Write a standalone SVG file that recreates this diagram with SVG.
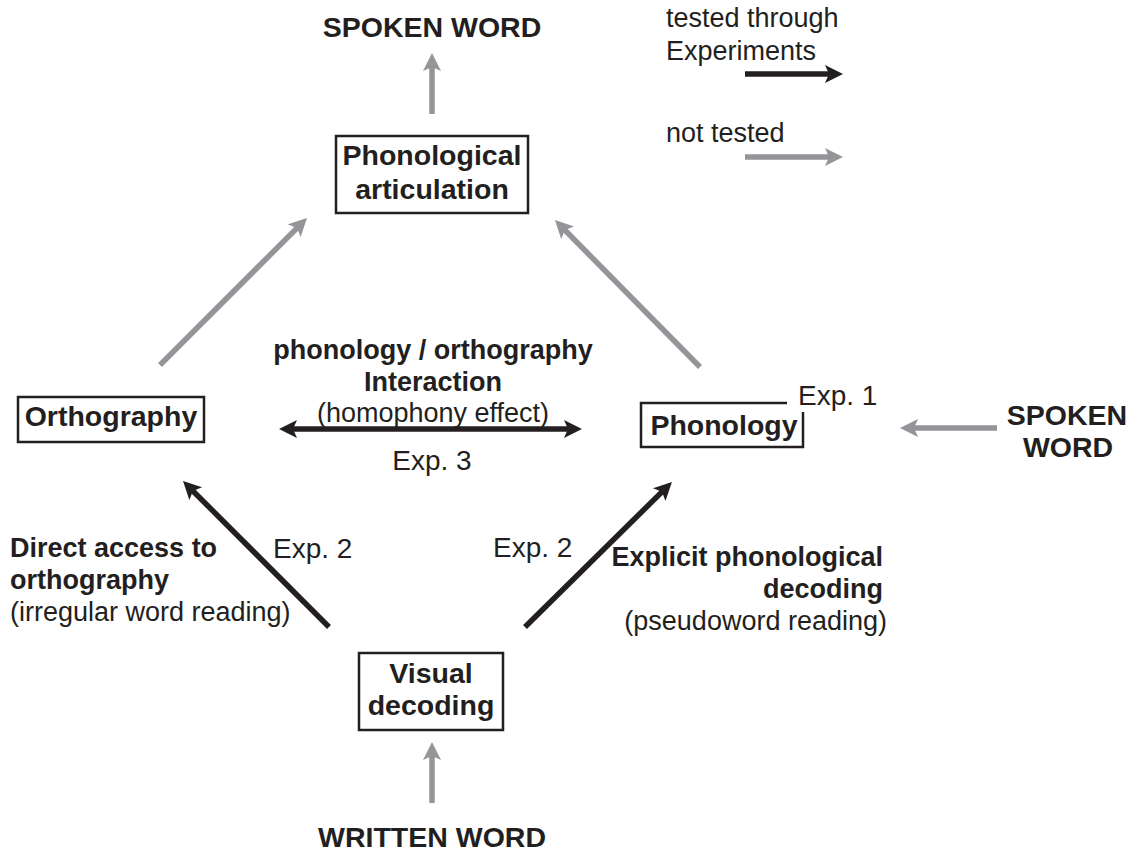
<svg xmlns="http://www.w3.org/2000/svg" width="1135" height="851" viewBox="0 0 1135 851">
<defs>
<style>
text{font-family:"Liberation Sans",Arial,sans-serif;fill:#231f20}
.b{font-weight:bold}
.n{font-size:28.5px;font-weight:bold}
.l{font-size:27px}
.e{font-size:28px}
.box{fill:none;stroke:#231f20;stroke-width:2.5}
.k{stroke:#231f20;stroke-width:5.5;fill:none}
.g{stroke:#939598;stroke-width:5.5;fill:none}
</style>
<marker id="hk" markerUnits="userSpaceOnUse" markerWidth="20" markerHeight="20" refX="5" refY="9" orient="auto-start-reverse" viewBox="0 0 20 20">
<path d="M0,0 L18,9 L0,18 L4,9 z" fill="#231f20"/>
</marker>
<marker id="hg" markerUnits="userSpaceOnUse" markerWidth="20" markerHeight="20" refX="5" refY="9" orient="auto" viewBox="0 0 20 20">
<path d="M0,0 L18,9 L0,18 L4,9 z" fill="#939598"/>
</marker>
</defs>
<rect width="1135" height="851" fill="#fff"/>
<g id="connectors">
<line class="g" x1="432" y1="114" x2="432" y2="66" marker-end="url(#hg)"/>
<line class="g" x1="432" y1="803" x2="432" y2="755" marker-end="url(#hg)"/>
<line class="g" x1="997" y1="428" x2="913" y2="428" marker-end="url(#hg)"/>
<line class="g" x1="160" y1="365" x2="297.8" y2="227.2" marker-end="url(#hg)"/>
<line class="g" x1="700" y1="367" x2="564.1" y2="229.3" marker-end="url(#hg)"/>
<line class="k" x1="329" y1="627" x2="192.2" y2="490.2" marker-end="url(#hk)"/>
<line class="k" x1="525" y1="627" x2="662.7" y2="491.1" marker-end="url(#hk)"/>
<line class="k" x1="292" y1="429" x2="569" y2="429" marker-start="url(#hk)" marker-end="url(#hk)"/>
</g>
<g id="legend">
<text class="l" x="666" y="27">tested through</text>
<text class="l" x="666" y="60">Experiments</text>
<line class="k" x1="745" y1="74" x2="830" y2="74" marker-end="url(#hk)"/>
<text class="l" x="666" y="142">not tested</text>
<line class="g" x1="745" y1="157" x2="830" y2="157" marker-end="url(#hg)"/>
</g>
<g id="spoken-word-top">
<text class="n" x="432" y="37" text-anchor="middle">SPOKEN WORD</text>
</g>
<g id="phonological-articulation">
<rect class="box" x="336" y="136" width="192" height="77"/>
<text class="n" x="432" y="165" text-anchor="middle">Phonological</text>
<text class="n" x="432" y="199" text-anchor="middle">articulation</text>
</g>
<g id="orthography">
<rect class="box" x="18" y="397" width="186" height="45"/>
<text class="n" x="111" y="426" text-anchor="middle">Orthography</text>
</g>
<g id="phonology">
<path class="box" d="M787,403 H641 V447 H803 V412"/>
<text class="n" x="724" y="435" text-anchor="middle">Phonology</text>
<text class="e" x="798" y="405">Exp. 1</text>
</g>
<g id="spoken-word-right">
<text class="n" x="1067" y="425" text-anchor="middle">SPOKEN</text>
<text class="n" x="1068" y="457" text-anchor="middle">WORD</text>
</g>
<g id="visual-decoding">
<rect class="box" x="359" y="653" width="144" height="77"/>
<text class="n" x="431" y="683" text-anchor="middle">Visual</text>
<text class="n" x="431" y="715" text-anchor="middle">decoding</text>
</g>
<g id="written-word">
<text class="n" x="432" y="847" text-anchor="middle">WRITTEN WORD</text>
</g>
<g id="labels">
<text class="l b" x="433" y="359" text-anchor="middle">phonology / orthography</text>
<text class="l b" x="433" y="391" text-anchor="middle">Interaction</text>
<text class="l" x="433" y="422" text-anchor="middle">(homophony effect)</text>
<text class="e" x="432" y="470" text-anchor="middle">Exp. 3</text>
<text class="l b" x="10" y="557">Direct access to</text>
<text class="l b" x="10" y="589">orthography</text>
<text class="l" x="10" y="621">(irregular word reading)</text>
<text class="e" x="273" y="558">Exp. 2</text>
<text class="e" x="493" y="557">Exp. 2</text>
<text class="l b" x="883" y="566" text-anchor="end">Explicit phonological</text>
<text class="l b" x="883" y="598" text-anchor="end">decoding</text>
<text class="l" x="887" y="630" text-anchor="end">(pseudoword reading)</text>
</g>
</svg>
